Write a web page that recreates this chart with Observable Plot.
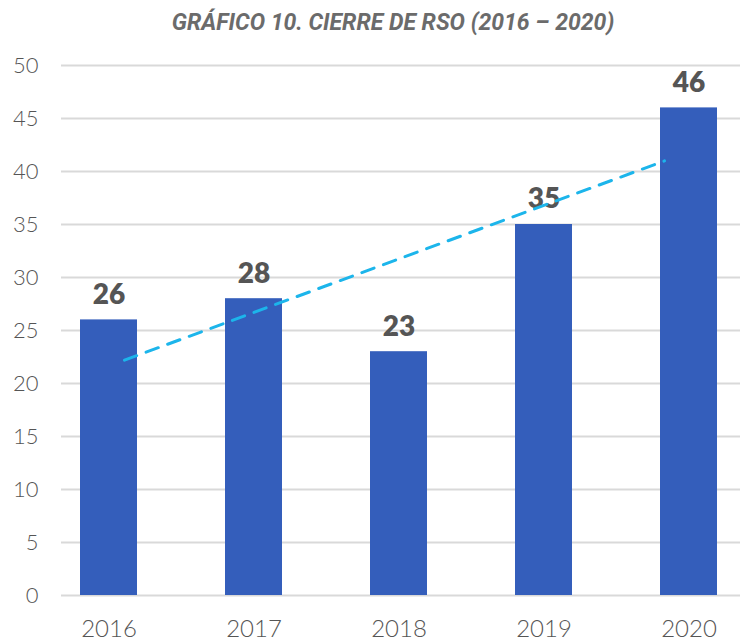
<!DOCTYPE html>
<html><head><meta charset="utf-8">
<script src="https://cdn.jsdelivr.net/npm/d3@7"></script>
<script src="https://cdn.jsdelivr.net/npm/@observablehq/plot@0.6"></script>
<style>
body{margin:0;background:#fff;}
#title{height:44px;line-height:46px;text-align:center;font-family:Roboto,sans-serif;font-weight:700;font-style:italic;font-size:23px;color:#6b6b6b;padding-left:46px;box-sizing:border-box;width:740px;}
</style></head>
<body>
<div id="title">GRÁFICO 10. CIERRE DE RSO (2016 – 2020)</div>
<div id="chart"></div>
<script>
const years = ["2016","2017","2018","2019","2020"];
const values = [26, 28, 23, 35, 46];
const yTicks = [0,5,10,15,20,25,30,35,40,45,50];
const data = years.map((y,i)=>({year:y, value:values[i], idx:i}));

const chart = Plot.plot({
  width: 740, height: 596,
  marginTop: 21, marginBottom: 45, marginLeft: 61, marginRight: 0,
  style: {fontFamily: "Lato, sans-serif", background: "#fff"},
  x: {domain: years, paddingInner: 0.61, paddingOuter: 0.145, align: 0.45, label: null},
  y: {domain: [0,50], label: null},
  marks: [
    Plot.ruleY(yTicks, {stroke:"#d9d9d9", strokeWidth:2}),
    Plot.barY(data, {x:"year", y:"value", fill:"#345EBB"}),
    Plot.text(data, {x:"year", y:"value", text:d=>String(d.value), dy:-25, fontSize:28, fontWeight:800, fill:"#555555"}),
    Plot.axisY(yTicks, {tickSize:0, tickPadding:23, fontSize:22, fontWeight:300, color:"#555", label:null}),
    Plot.axisX({tickSize:0, tickPadding:24, fontSize:24, fontWeight:300, color:"#555", label:null})
  ]
});
document.getElementById("chart").appendChild(chart);

// trend line (linear regression of the values) drawn through the same scales
const xs = data.map(d=>d.idx), ys = values;
const n = xs.length, mx = d3.mean(xs), my = d3.mean(ys);
const slope = d3.sum(xs.map((x,i)=>(x-mx)*(ys[i]-my))) / d3.sum(xs.map(x=>(x-mx)**2));
const trend = [0, n-1].map(i=>({year:years[i], value: my + slope*(i-mx)}));
const overlay = Plot.plot({
  width: 740, height: 596,
  marginTop: 21, marginBottom: 45, marginLeft: 61, marginRight: 0,
  x: {domain: years, paddingInner: 0.61, paddingOuter: 0.145, align: 0.45, axis:null},
  y: {domain: [0,50], axis:null},
  style: {background:"transparent", position:"absolute", top:"44px", left:"0px"},
  marks: [
    Plot.line(trend, {x:"year", y:"value", stroke:"#1CB5EB", strokeWidth:3, strokeDasharray:"13,10"})
  ]
});
document.getElementById("chart").appendChild(overlay);
</script>
</body></html>
